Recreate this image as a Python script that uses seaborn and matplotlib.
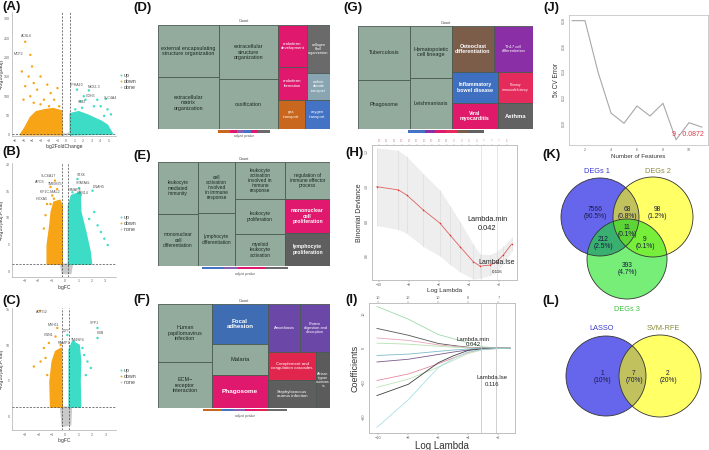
import numpy as np
import pandas as pd
import matplotlib.pyplot as plt
from matplotlib.patches import Rectangle, Circle
from matplotlib.colors import ListedColormap
import seaborn as sns

sns.set_theme(style="white")
plt.rcParams['font.family'] = ['Liberation Sans', 'DejaVu Sans']

W, H = 709, 450
UP, DOWN, NONE = '#3ddcc6', '#f7a416', '#c9c9c9'
GREEN, PINK = '#93ab9d', '#e0196f'

# ---------------- (A) volcano: log2FoldChange / -log10(padj) ----------------
a_up_x = [1.3, 2.7, 2.3, 4.7, 1.9, 2.1, 3.7, 4.1, 4.9, 3.3, 4.5, 1.7, 1.1, 5.3]
a_up_y = [117, 115, 91, 93, 70, 100, 91, 74, 66, 74, 49, 87, 66, 53]
a_down_x = [-4.8, -4.2, -5.2, -4.4, -4.0, -3.8, -3.0, -4.8, -2.2, -3.4,
            -1.8, -1.4, -2.6, -4.2, -1.0, -3.8, -2.0, -0.8, -3.0, -5.0]
a_down_y = [241, 207, 164, 151, 177, 134, 151, 126, 130, 117,
            108, 91, 91, 100, 121, 83, 74, 74, 79, 91]
a_none_x = [-0.2, 0.1, 0.3, -0.3]
a_none_y = [2, 1, 3, 0.5]
a_down_cloud_x = [-5.4, -4.8, -4.2, -3.5, -2.5, -1.5, -0.5, -0.45]
a_down_cloud_y = [0, 20, 45, 60, 65, 68, 62, 0]
a_up_cloud_x = [0.5, 0.5, 1.5, 2.5, 3.3, 4.2, 4.9, 5.5]
a_up_cloud_y = [0, 55, 60, 52, 44, 35, 25, 2]
a_genes = ["ACSL6", "MCF2", "EPHA10", "NKX2-3", "CDH3", "SLC4A4", "SIM2"]
a_gene_x = [-4.6, -5.6, 1.3, 3.3, 2.9, 5.2, 1.9]
a_gene_y = [250, 203, 124, 119, 96, 90, 79]

# ---------------- (B) volcano: logFC / -log10(adj.P.Val) ----------------
b_up_x = [0.93, 1.05, 2.05, 0.55, 1.18, 2.18, 2.68, 2.93, 2.43, 3.18, 1.8]
b_up_y = [17.3, 15.6, 15.1, 14.8, 14.3, 11.1, 7.35, 6.1, 8.6, 4.9, 9.8]
b_down_x = [-0.75, -1.08, -0.58, -0.95, -1.33, -1.45, -1.58, -1.2, -0.83, -1.08]
b_down_y = [17.0, 15.8, 15.4, 14.2, 12.6, 10.5, 8.0, 6.1, 13.6, 12.6]
b_none_x = [-0.1, 0.2, 0.0]
b_none_y = [0.5, 0.9, -0.2]
b_down_cloud_x = [-1.33, -1.33, -1.13, -1.03, -0.83, -0.38, -0.2, -0.2]
b_down_cloud_y = [1.3, 4.86, 8.6, 11.1, 12.95, 13.3, 12.3, 1.3]
b_up_cloud_x = [0.25, 0.25, 0.48, 1.13, 1.18, 1.55, 1.88, 1.98]
b_up_cloud_y = [1.3, 12.3, 14.2, 14.8, 11.1, 7.35, 3.6, 1.3]
b_none_cloud_x = [-0.33, 0.55, 0.43, -0.2]
b_none_cloud_y = [1.3, 1.3, -0.44, -0.44]
b_genes = ["SLC6A17", "APCS", "TMEM35", "KIF1C-MAL2", "HOXA5",
           "STX6", "SPATA6L", "DNAH5", "GIMAP8", "GRB14"]
b_gene_x = [-1.2, -1.88, -0.7, -1.13, -1.7, 1.18, 1.38, 2.48, 0.73, 1.3]
b_gene_y = [17.4, 16.4, 15.9, 14.5, 13.1, 17.6, 16.2, 15.4, 14.9, 14.2]

# ---------------- (C) volcano ----------------
c_up_x = [2.4, 2.4, 0.15, 0.65, 1.4, 1.65, 1.53, 1.9, 1.28]
c_up_y = [12.4, 11.0, 11.4, 10.5, 8.6, 7.7, 5.8, 6.8, 9.6]
c_down_x = [-1.9, -0.6, -0.73, -0.35, -2.35, -1.85, -1.48, -1.35, -1.6, -1.23]
c_down_y = [14.8, 12.4, 11.2, 10.0, 7.0, 7.7, 8.2, 5.8, 9.6, 10.3]
c_none_x = [-0.1, 0.2, 0.0]
c_none_y = [0.3, -0.5, -1.0]
c_down_cloud_x = [-1.1, -1.15, -0.98, -0.73, -0.28, -0.23]
c_down_cloud_y = [1.31, 4.9, 7.7, 9.1, 9.6, 1.31]
c_up_cloud_x = [0.28, 0.28, 0.53, 1.03, 1.15, 1.1, 1.15]
c_up_cloud_y = [1.31, 9.35, 10.5, 10.0, 7.7, 4.9, 1.31]
c_none_cloud_x = [-0.35, 0.45, 0.4, -0.23]
c_none_cloud_y = [1.31, 1.31, -1.17, -1.4]
c_genes = ["ACTG2", "MYH11", "CNN1", "DPT", "TM4SF4", "SPP1", "HBB", "RAMP1"]
c_gene_x = [-1.73, -0.85, -1.23, 0.1, 0.95, 2.15, 2.6, -0.1]
c_gene_y = [14.35, 12.6, 11.2, 11.7, 10.5, 12.75, 11.35, 10.0]

# ---------------- treemaps (D-G) ----------------
d_terms = ["external encapsulating\nstructure organization", "extracellular\nmatrix\norganization",
           "extracellular\nstructure\norganization", "ossification", "endoderm\ndevelopment",
           "endoderm\nformation", "gas\ntransport", "oxygen\ntransport",
           "collagen\nfibril\norganization", "carbon\ndioxide\ntransport"]
d_layout = [(0, .355, 0, .5), (0, .355, .5, 1), (.355, .698, 0, .52), (.355, .698, .52, 1),
            (.698, .866, 0, .404), (.698, .866, .404, .721), (.698, .855, .721, 1),
            (.855, 1, .721, 1), (.866, 1, 0, .46), (.866, 1, .46, .721)]
d_fill = [GREEN] * 4 + [PINK, PINK, '#c8671d', '#4473c5', '#6a6a6a', '#8aa5b2']
d_size = [3.9] * 4 + [3.1, 3.1, 3.0, 3.0, 2.7, 2.7]
d_bold = [False] * 10

e_terms = ["leukocyte\nmediated\nimmunity", "mononuclear\ncell\ndifferentiation",
           "cell\nactivation\ninvolved\nin immune\nresponse", "lymphocyte\ndifferentiation",
           "leukocyte\nactivation\ninvolved in\nimmune\nresponse", "leukocyte\nproliferation",
           "myeloid\nleukocyte\nactivation", "regulation of\nimmune effector\nprocess",
           "mononuclear\ncell\nproliferation", "lymphocyte\nproliferation"]
e_layout = [(0, .233, 0, .5), (0, .233, .5, 1), (.233, .448, 0, .49), (.233, .448, .49, 1),
            (.448, .738, 0, .356), (.448, .738, .356, .692), (.448, .738, .692, 1),
            (.738, 1, 0, .356), (.738, 1, .356, .683), (.738, 1, .683, 1)]
e_fill = [GREEN] * 8 + [PINK, '#5f5f5f']
e_size = [3.5] * 8 + [3.7, 3.7]
e_bold = [False] * 8 + [True, True]

f_terms = ["Human\npapillomavirus\ninfection", "ECM\u2212\nreceptor\ninteraction", "Focal\nadhesion",
           "Malaria", "Phagosome", "Amoebiasis", "Protein\ndigestion and\nabsorption",
           "Complement and\ncoagulation cascades", "Staphylococcus\naureus infection",
           "African\ntrypan\nosomias\nis"]
f_layout = [(0, .314, 0, .558), (0, .314, .558, 1), (.314, .64, 0, .385), (.314, .64, .385, .683),
            (.314, .64, .683, 1), (.64, .826, 0, .462), (.826, 1, 0, .462),
            (.64, .919, .462, .731), (.64, .919, .731, 1), (.919, 1, .462, 1)]
f_fill = [GREEN, GREEN, '#3f6db4', GREEN, PINK, '#6b47a8', '#6b47a8', '#e0264c', '#5e5e5e', '#5b5b5b']
f_size = [3.9, 3.9, 4.4, 4.2, 4.6, 3.0, 2.8, 3.2, 3.2, 2.6]
f_bold = [False, False, True, False, True, False, False, False, False, False]

g_terms = ["Tuberculosis", "Phagosome", "Hematopoietic\ncell lineage", "Leishmaniasis",
           "Osteoclast\ndifferentiation", "Th17 cell\ndifferentiation", "Inflammatory\nbowel disease",
           "Primary\nimmunodeficiency", "Viral\nmyocarditis", "Asthma"]
g_layout = [(0, .297, 0, .524), (0, .297, .524, 1), (.297, .537, 0, .505), (.297, .537, .505, 1),
            (.537, .777, 0, .447), (.777, 1, 0, .447), (.537, .8, .447, .748), (.8, 1, .447, .748),
            (.537, .8, .748, 1), (.8, 1, .748, 1)]
g_fill = [GREEN] * 4 + ['#7b5d4a', '#8a2fa6', '#3f6fc0', '#e52a5c', '#e0196a', '#626262']
g_size = [3.9, 3.9, 4.0, 3.9, 3.8, 2.9, 3.8, 2.4, 3.8, 4.2]
g_bold = [False] * 4 + [True, False, True, False, True, True]

# ---------------- (H) LASSO cross-validation ----------------
h_loglam = [-10.16, -8.71, -8.16, -7.04, -5.93, -5.27, -4.6, -3.71, -3.27, -2.6, -2.16, -1.71, -1.16]
h_dev = [0.998, 0.979, 0.95, 0.863, 0.787, 0.719, 0.652, 0.565, 0.54, 0.546, 0.565, 0.604, 0.667]
h_sd = [0.224, 0.228, 0.222, 0.21, 0.19, 0.17, 0.145, 0.10, 0.07, 0.06, 0.06, 0.05, 0.04]
h_top_x = [-10, -9.5, -9, -8.5, -8, -7.5, -7, -6.5, -6, -5.5, -5, -4.5, -4, -3.5, -3, -2.5, -2, -1.5]
h_top_n = ["10", "10", "10", "10", "10", "10", "10", "10", "10", "10", "9", "9", "8", "8", "7", "7", "7", "6"]
lambda_min, lambda_1se = 0.042, 0.116

# ---------------- (I) coefficient paths ----------------
i_loglam = [-10.1, -8, -6, -5, -4, -3, -2, -1.2]
i_paths = [
    [12.2, 8.5, 4.0, 2.8, 1.6, 0.4, 0.1, 0.0],
    [5.8, 3.8, 1.4, 0.8, 0.3, 0.1, 0.0, 0.0],
    [3.0, 2.3, 1.0, 0.6, 0.2, 0.05, 0.0, 0.0],
    [1.5, 1.2, 0.6, 0.3, 0.1, 0.0, 0.0, 0.0],
    [-2.1, -1.7, -0.9, -0.5, -0.2, 0.0, 0.0, 0.0],
    [-4.0, -3.2, -1.8, -1.1, -0.5, -0.1, 0.0, 0.0],
    [-9.4, -7.5, -4.5, -2.8, -1.2, -0.3, -0.05, 0.0],
    [-11.4, -9.0, -5.5, -3.5, -1.5, -0.4, -0.1, 0.0],
    [-13.8, -10.5, -4.2, -2.2, -0.6, -0.2, 0.0, 0.0],
    [-23.1, -15.0, -5.6, -3.0, -1.0, -0.3, -0.05, 0.0],
]
i_top_x = [-10, -8, -6, -4, -2]
i_top_n = ["10", "10", "10", "8", "7"]

# ---------------- (J) SVM-RFE ----------------
j_features = [1, 2, 3, 4, 5, 6, 7, 8, 9, 10, 11]
j_error = [0.18, 0.18, 0.140, 0.108, 0.100, 0.1135, 0.1057, 0.1156, 0.0872, 0.1005, 0.097]

# ---------------- (K, L) Venn counts ----------------
k_sets = ["DEGs 1", "DEGs 2", "DEGs 3"]
k_counts = [7566, 68, 98, 11, 212, 9, 393]   # 1, 1&2, 2, 1&2&3, 1&3, 2&3, 3
l_sets = ["LASSO", "SVM-RFE"]
l_counts = [1, 7, 2]

# =============================================================
fig = plt.figure(figsize=(W / 100, H / 100), dpi=100)


def px_ax(x0, y0, x1, y1):
    return fig.add_axes([x0 / W, 1 - y1 / H, (x1 - x0) / W, (y1 - y0) / H])


def ftext(x, y, s, **kw):
    fig.text(x / W, 1 - y / H, s, **kw)


def volcano(box, up, down, none, clouds, genes, cut, xlim, ylim, xticks, yticks,
            xlabel, ylabel, legend_names, legend_y):
    ax = px_ax(*box)
    for cx, cy, col in clouds:
        ax.fill(cx, cy, color=col, lw=1.0, ec=col, zorder=1)
    df = pd.concat([
        pd.DataFrame({'x': up[0], 'y': up[1], 'group': 'up'}),
        pd.DataFrame({'x': down[0], 'y': down[1], 'group': 'down'}),
        pd.DataFrame({'x': none[0], 'y': none[1], 'group': 'none'}),
    ])
    sns.scatterplot(data=df, x='x', y='y', hue='group', hue_order=['up', 'down', 'none'],
                    palette=[UP, DOWN, NONE], s=3, linewidth=0, ax=ax, zorder=2)
    for name, gx, gy in zip(*genes):
        ax.text(gx, gy, name, fontsize=2.6, ha='center', va='bottom', color='#555555', zorder=3)
    ax.axvline(-cut, ls=(0, (3, 2)), color='#444444', lw=0.5, zorder=4)
    ax.axvline(cut, ls=(0, (3, 2)), color='#444444', lw=0.5, zorder=4)
    ax.axhline(1.3, ls=(0, (3, 2)), color='#444444', lw=0.5, zorder=4)
    ax.set_xlim(xlim)
    ax.set_ylim(ylim)
    ax.set_xticks(xticks)
    ax.set_yticks(yticks)
    ax.tick_params(labelsize=2.6, length=1, width=0.3, pad=0.8, colors='#666666')
    ax.set_xlabel(xlabel, fontsize=3.6, labelpad=1, color='#333333')
    ax.set_ylabel(ylabel, fontsize=3.8, color='#333333')
    ax.yaxis.set_label_coords(-0.075, 0.5)
    for s in ('top', 'right'):
        ax.spines[s].set_visible(False)
    for s in ('left', 'bottom'):
        ax.spines[s].set_color('#999999')
        ax.spines[s].set_linewidth(0.4)
    sns.move_legend(ax, 'center left', bbox_to_anchor=(1.0, legend_y), frameon=False,
                    fontsize=3.8, title=None, handletextpad=0.1, labelspacing=0.15,
                    borderpad=0, handlelength=0.8, markerscale=0.8)
    for t, n in zip(ax.get_legend().get_texts(), legend_names):
        t.set_text(n)
        t.set_color('#444444')
    return ax


volcano((12, 12, 116, 136), (a_up_x, a_up_y), (a_down_x, a_down_y), (a_none_x, a_none_y),
        [(a_down_cloud_x, a_down_cloud_y, DOWN), (a_up_cloud_x, a_up_cloud_y, UP)],
        (a_genes, a_gene_x, a_gene_y), 0.43, (-6.36, 5.9), (-3, 318),
        [-6, -5, -4, -3, -2, -1, 0, 1, 2, 3, 4, 5], [0, 50, 100, 150, 200, 250, 300],
        "log2FoldChange", "\u2212log10(padj)", ["up", "down", "done"], 0.44)
volcano((12, 163, 116, 277), (b_up_x, b_up_y), (b_down_x, b_down_y), (b_none_x, b_none_y),
        [(b_none_cloud_x, b_none_cloud_y, NONE), (b_down_cloud_x, b_down_cloud_y, DOWN),
         (b_up_cloud_x, b_up_cloud_y, UP)],
        (b_genes, b_gene_x, b_gene_y), 0.25, (-3.95, 3.8), (-1.1, 20.3),
        [-3, -2, -1, 0, 1, 2, 3], [0, 5, 10, 15, 20],
        "logFC", "\u2212log10(adj.P.Val)", ["up", "down", "none"], 0.47)
volcano((12, 308, 116, 430), (c_up_x, c_up_y), (c_down_x, c_down_y), (c_none_x, c_none_y),
        [(c_none_cloud_x, c_none_cloud_y, NONE), (c_down_cloud_x, c_down_cloud_y, DOWN),
         (c_up_cloud_x, c_up_cloud_y, UP)],
        (c_genes, c_gene_x, c_gene_y), 0.28, (-3.98, 3.78), (-1.9, 15.2),
        [-3, -2, -1, 0, 1, 2, 3], [0, 5, 10, 15],
        "logFC", "\u2212log10(adj.P.Val)", ["up", "down", "none"], 0.44)


# ---------------- treemaps ----------------
def treemap(box, terms, layout, fills, sizes, bolds, bar_box, bar_colors, pv_label=True):
    ax = px_ax(*box)
    ax.set_xlim(0, 1)
    ax.set_ylim(1, 0)
    ax.axis('off')
    for term, (x0, x1, y0, y1), fc, fs, b in zip(terms, layout, fills, sizes, bolds):
        ax.add_patch(Rectangle((x0, y0), x1 - x0, y1 - y0, fc=fc, ec='#4a5a52', lw=0.6))
        tc = '#1e2a24' if fc == GREEN else 'white'
        ax.text((x0 + x1) / 2, (y0 + y1) / 2, term, ha='center', va='center', color=tc,
                fontsize=fs, fontweight='bold' if b else 'normal', linespacing=1.05)
    x0, y0, x1, y1 = box
    ftext((x0 + x1) / 2, y0 - 1.5, "Count", fontsize=2.8, ha='center', va='bottom', color='#444444')
    bx = px_ax(*bar_box)
    bx.imshow(np.arange(len(bar_colors))[None, :], cmap=ListedColormap(bar_colors),
              aspect='auto', interpolation='bicubic')
    bx.set_xticks([])
    bx.set_yticks([])
    for s in bx.spines.values():
        s.set_visible(False)
    if pv_label:
        ftext((bar_box[0] + bar_box[2]) / 2, bar_box[3] + 4, "adjust pvalue", fontsize=2.4,
              ha='center', va='center', color='#555555')


treemap((158, 25, 330, 129), d_terms, d_layout, d_fill, d_size, d_bold, (218, 130, 270, 132.5),
        ['#c8671d', '#e0196f', '#8a5fb0', '#4473c5', '#e0196f', '#6a6a6a'])
treemap((158, 162, 330, 266), e_terms, e_layout, e_fill, e_size, e_bold, (202, 267, 288, 269.5),
        ['#4473c5', '#8a5fb0', '#e0196f', '#e0196f', '#6a6a6a'])
treemap((158, 304, 330, 408), f_terms, f_layout, f_fill, f_size, f_bold, (203, 409, 287, 411.5),
        ['#c8671d', '#4473c5', '#8a5fb0', '#e0196f', '#e0264c', '#6a6a6a'])
treemap((358, 26, 533, 129), g_terms, g_layout, g_fill, g_size, g_bold, (408, 130, 484, 132.5),
        ['#4473c5', '#8a2fa6', '#e0196f', '#e52a5c', '#7b5d4a', '#626262'], pv_label=False)


def frame(ax):
    for s in ax.spines.values():
        s.set_color('#bbbbbb')
        s.set_linewidth(0.5)


# ---------------- (H) ----------------
ax = px_ax(372, 145, 517, 280)
hl = np.array(h_loglam)
hd = np.array(h_dev)
hs = np.array(h_sd)
ax.fill_between(hl, hd - hs, hd + hs, color='#eeeeee', lw=0)
ax.vlines(hl, hd - hs, hd + hs, color='#d9d9d9', lw=0.4)
sns.lineplot(x=h_loglam, y=h_dev, color='#e06060', lw=0.6, ax=ax)
ax.scatter(h_loglam, h_dev, s=1.2, color='#e03030', zorder=3, lw=0)
ax.axvline(np.log(lambda_min), color='#dddddd', lw=0.5)
ax.axvline(np.log(lambda_1se), color='#dddddd', lw=0.5)
ax.text(-2.8, 0.806, "Lambda.min", fontsize=5.3, ha='center', va='center', color='#222222')
ax.text(-2.8, 0.754, f"{lambda_min}", fontsize=5.3, ha='center', va='center', color='#222222')
ax.text(-2.13, 0.558, "Lambda.lse", fontsize=5.0, ha='center', va='center', color='#222222')
ax.text(-2.13, 0.506, f"{lambda_1se}", fontsize=3.2, ha='center', va='center', color='#222222')
ax.set_xlim(-10.47, -0.8)
ax.set_ylim(0.46, 1.238)
ax.set_xticks([-10, -8, -6, -4, -2])
ax.set_yticks([0.6, 0.8, 1.0, 1.2])
ax.tick_params(labelsize=2.6, length=1.2, width=0.3, pad=1, colors='#666666')
plt.setp(ax.get_yticklabels(), rotation=90, va='center')
ax.set_xlabel("Log Lambda", fontsize=4.6, labelpad=0.5, color='#333333')
ax.set_ylabel("Binomial Deviance", fontsize=5, labelpad=1.5, color='#333333')
frame(ax)
top = ax.twiny()
top.set_xlim(ax.get_xlim())
top.set_xticks(h_top_x)
top.set_xticklabels(h_top_n)
top.tick_params(labelsize=2.2, length=0.8, width=0.3, pad=0.6, colors='#c89aa0')
frame(top)

# ---------------- (I) ----------------
ax = px_ax(369, 303, 515, 433)
path_colors = ['#9fd8b0', '#555555', '#e4a6b8', '#b6e2b0', '#7fbccc', '#7a5a8a',
               '#e58aa0', '#bfe3b8', '#3f3f3f', '#a8e0e8']
for path, col in zip(i_paths, path_colors):
    sns.lineplot(x=i_loglam, y=path, color=col, lw=0.6, ax=ax)
ax.axvline(np.log(lambda_min), color='#c8c8c8', lw=0.6)
ax.axvline(np.log(lambda_1se), color='#c8c8c8', lw=0.6)
ax.text(-3.69, 2.7, "Lambda.min", fontsize=4.3, ha='center', va='center', color='#222222')
ax.text(-3.69, 1.0, f"{lambda_min}", fontsize=4.3, ha='center', va='center', color='#222222')
ax.text(-2.42, -8.6, "Lambda.lse", fontsize=4.3, ha='center', va='center', color='#222222')
ax.text(-2.42, -10.7, f"{lambda_1se}", fontsize=4.3, ha='center', va='center', color='#222222')
ax.set_xlim(-10.62, -0.89)
ax.set_ylim(-24.7, 13.2)
ax.set_xticks([-10, -8, -6, -4, -2])
ax.set_yticks([-20, -10, 0, 10])
ax.tick_params(labelsize=2.8, length=1.2, width=0.3, pad=1, colors='#666666')
plt.setp(ax.get_yticklabels(), rotation=90, va='center')
ax.set_xlabel("Log Lambda", fontsize=7, labelpad=1, color='#333333')
ax.set_ylabel("Coefficients", fontsize=6.5, labelpad=1.5, color='#333333')
frame(ax)
top = ax.twiny()
top.set_xlim(ax.get_xlim())
top.set_xticks(i_top_x)
top.set_xticklabels(i_top_n)
top.tick_params(labelsize=2.8, length=1.2, width=0.3, pad=0.8, colors='#666666')
frame(top)

# ---------------- (J) ----------------
ax = px_ax(569, 15, 708, 145)
sns.lineplot(x=j_features, y=j_error, color='#a8a8a8', lw=0.8, ax=ax)
best = int(np.argmin(j_error))
ax.text(j_features[best] + 0.9, j_error[best] + 0.0043,
        f"{j_features[best]} - {j_error[best]:.4f}", fontsize=5, ha='center', va='center',
        color='#e03a4a')
ax.set_xlim(0.77, 11.46)
ax.set_ylim(0.0831, 0.1844)
ax.set_xticks([2, 4, 6, 8, 10])
ax.set_yticks([0.10, 0.12, 0.14, 0.16, 0.18])
ax.tick_params(labelsize=2.6, length=1.2, width=0.3, pad=1, colors='#666666')
plt.setp(ax.get_yticklabels(), rotation=90, va='center')
ax.set_xlabel("Number of Features", fontsize=4.4, labelpad=1.5, color='#333333')
ax.set_ylabel("5x CV Error", fontsize=4.7, labelpad=1.5, color='#333333')
frame(ax)

# ---------------- (K) Venn ----------------
ax = px_ax(545, 150, 709, 318)
ax.set_xlim(545, 709)
ax.set_ylim(318, 150)
ax.axis('off')
k_circles = [((600, 217), 39, '#0000e0'), ((653, 217), 40, '#ffff00'), ((627, 259), 40, '#1ce31c')]
for (c, r, col) in k_circles:
    ax.add_patch(Circle(c, r, fc=col, alpha=0.6, lw=0))
for (c, r, col) in k_circles:
    ax.add_patch(Circle(c, r, fill=False, ec='#333333', lw=0.6))
k_total = sum(k_counts)
k_pos = [(595, 213), (627, 213), (657, 213), (627, 231), (603, 243), (645, 243), (627, 269)]
for n, (x, y) in zip(k_counts, k_pos):
    ax.text(x, y, f"{n}\n({100 * n / k_total:.1f}%)", fontsize=4.8, ha='center', va='center',
            color='#1a1a40', linespacing=0.95)
for name, (x, y), col in zip(k_sets, [(597, 172), (658, 172), (627, 310)],
                             ['#3b3bd0', '#8a8a3a', '#3fbf3f']):
    ax.text(x, y, name, fontsize=5.3, ha='center', va='center', color=col)

# ---------------- (L) Venn ----------------
ax = px_ax(545, 318, 709, 450)
ax.set_xlim(545, 709)
ax.set_ylim(450, 318)
ax.axis('off')
l_circles = [((606, 376), 40, '#0000e0'), ((660, 376), 41, '#ffff00')]
for (c, r, col) in l_circles:
    ax.add_patch(Circle(c, r, fc=col, alpha=0.6, lw=0))
for (c, r, col) in l_circles:
    ax.add_patch(Circle(c, r, fill=False, ec='#333333', lw=0.6))
l_total = sum(l_counts)
for n, (x, y) in zip(l_counts, [(602, 377), (634, 377), (668, 377)]):
    ax.text(x, y, f"{n}\n({100 * n / l_total:.0f}%)", fontsize=4.8, ha='center', va='center',
            color='#1a1a40', linespacing=0.95)
for name, (x, y), col in zip(l_sets, [(602, 328), (663, 328)], ['#3b3bd0', '#8a8a3a']):
    ax.text(x, y, name, fontsize=5.3, ha='center', va='center', color=col)

# ---------------- panel letters ----------------
letters = ["(A)", "(B)", "(C)", "(D)", "(E)", "(F)", "(G)", "(H)", "(I)", "(J)", "(K)", "(L)"]
letter_xy = [(2, 1), (2, 146), (2, 295), (133, 2), (133, 150), (133, 294), (343, 2),
             (345, 147), (345, 294), (543, 2), (542, 149), (542, 295)]
for s, (x, y) in zip(letters, letter_xy):
    ftext(x, y, s, fontsize=9.5, fontweight='bold', ha='left', va='top', color='#111111')

fig.savefig('out.png', dpi=100)
